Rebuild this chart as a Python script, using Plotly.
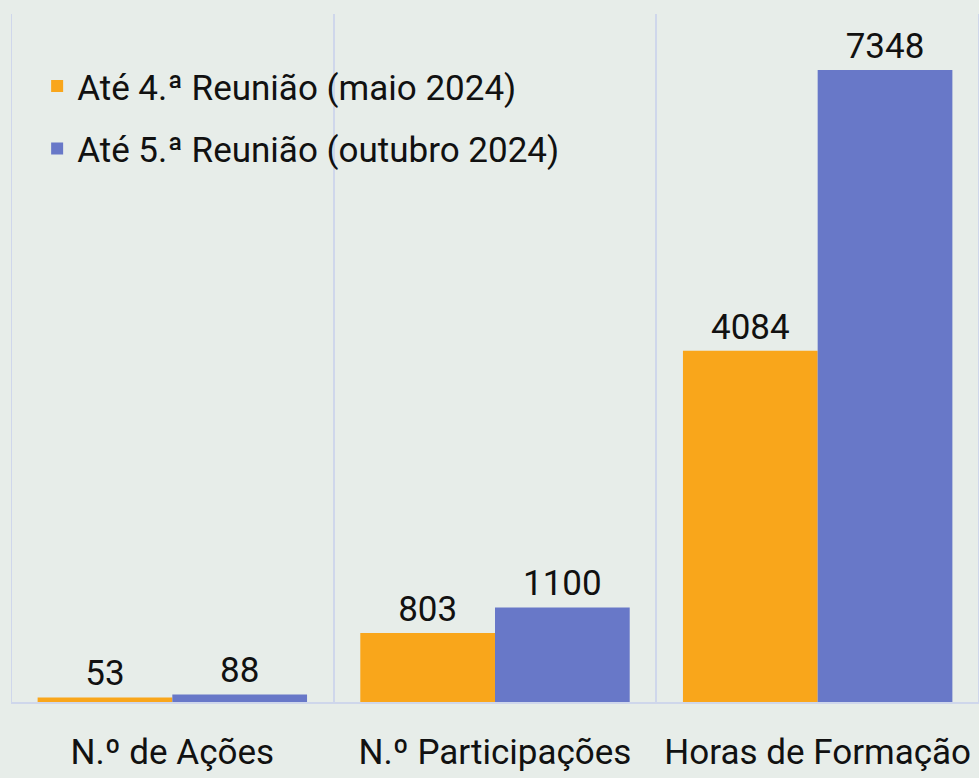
import plotly.graph_objects as go

categories = ["N.º de Ações", "N.º Participações", "Horas de Formação"]
series_names = ["Até 4.ª Reunião (maio 2024)", "Até 5.ª Reunião (outubro 2024)"]
values_may = [53, 803, 4084]
values_oct = [88, 1100, 7348]
colors = ["#f9a61b", "#6878c8"]
grid_color = "#cfd7eb"

fig = go.Figure()
for i, (name, vals) in enumerate(zip(series_names, [values_may, values_oct])):
    fig.add_trace(go.Bar(
        x=categories, y=vals, name=name,
        marker=dict(color=colors[i], line=dict(width=0)),
        text=[str(v) for v in vals], textposition="outside",
        textfont=dict(size=35, color="#111111"),
        cliponaxis=False,
        legendgroup=f"g{i}",
    ))

# boundary lines at the outer edges of the category band
for xb in (-0.5, len(categories) - 0.5):
    fig.add_shape(type="line", xref="x", yref="paper", x0=xb, x1=xb, y0=0, y1=1,
                  line=dict(color=grid_color, width=2), layer="below")

fig.update_layout(
    width=979, height=778,
    margin=dict(l=11, r=0, t=14, b=76),
    paper_bgcolor="#e7ede9", plot_bgcolor="#e7ede9",
    font=dict(family="Roboto", size=35, color="#111111"),
    barmode="group", bargap=0.165, bargroupgap=0,
    showlegend=True,
    legend=dict(x=0.027, y=0.938, xanchor="left", yanchor="top",
                bgcolor="rgba(0,0,0,0)", font=dict(size=35),
                traceorder="grouped", tracegroupgap=14),
    xaxis=dict(tickson="boundaries", showgrid=True, gridcolor=grid_color, gridwidth=2,
               ticks="", showline=True, linecolor=grid_color, linewidth=2,
               tickfont=dict(size=35), ticklabelstandoff=18,
               range=[-0.5, len(categories) - 0.5]),
    yaxis=dict(range=[0, 8000], visible=False, showgrid=False, zeroline=False),
)

fig.write_html("out.html", config={"displayModeBar": False},
               post_script="document.body.style.margin='0';")
